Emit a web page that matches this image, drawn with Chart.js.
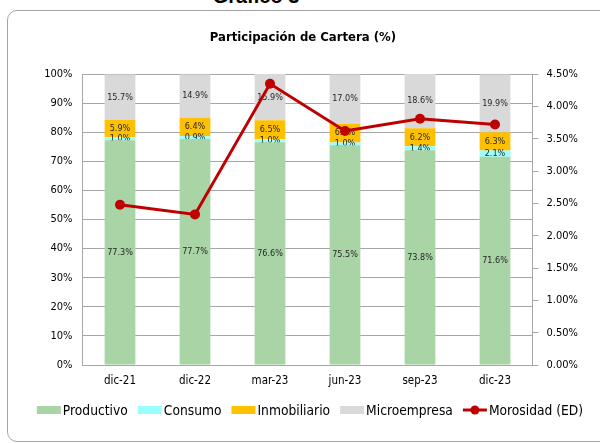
<!DOCTYPE html>
<html>
<head>
<meta charset="utf-8">
<script src="https://cdn.jsdelivr.net/npm/chart.js@4.4.1/dist/chart.umd.min.js"></script>
<style>
  html, body { margin: 0; padding: 0; background: #fff; }
  body { width: 600px; height: 443px; position: relative; overflow: hidden; }
  #heading {
    position: absolute; left: 156px; width: 200px; top: -14px;
    text-align: center; font: bold 20px/20px "Liberation Sans", Arial, sans-serif; color: #000;
  }
  #card {
    position: absolute; left: 7px; top: 10px; width: 620px; height: 430px;
    border: 1px solid #a6a6a6; border-radius: 10px; background: #fff;
  }
  #wrap { position: absolute; left: 0; top: 0; width: 600px; height: 443px; }
</style>
</head>
<body>
<div id="heading">Gráfico 3</div>
<div id="card"></div>
<div id="wrap"><canvas id="cartera" width="600" height="443"></canvas></div>
<script>
const labels = ['dic-21', 'dic-22', 'mar-23', 'jun-23', 'sep-23', 'dic-23'];

const productivo = [77.3, 77.7, 76.6, 75.5, 73.8, 71.6];
const consumo = [1.0, 0.9, 1.0, 1.0, 1.4, 2.1];
const inmobiliario = [5.9, 6.4, 6.5, 6.4, 6.2, 6.3];
const microempresa = [15.7, 14.9, 15.9, 17.0, 18.6, 19.9];
const morosidad = [2.48, 2.33, 4.35, 3.62, 3.81, 3.72];

const FONT = '"DejaVu Sans Condensed", "DejaVu Sans", sans-serif';

// etiquetas de datos (debajo de la linea de morosidad)
const barLabels = {
  id: 'barLabels',
  afterDatasetDraw(chart, args) {
    const ds = chart.data.datasets[args.index];
    if (ds.type === 'line') return;
    const ctx = chart.ctx;
    ctx.save();
    ctx.font = '9px ' + FONT;
    ctx.fillStyle = '#262626';
    ctx.textAlign = 'center';
    ctx.textBaseline = 'middle';
    args.meta.data.forEach((bar, i) => {
      const yMid = (bar.y + bar.base) / 2;
      ctx.fillText(ds.data[i].toFixed(1) + '%', bar.x, yMid);
    });
    ctx.restore();
  }
};

// leyenda dibujada a mano para igualar la de Excel
const customLegend = {
  id: 'customLegend',
  afterDraw(chart) {
    const ctx = chart.ctx;
    const y = 410;
    ctx.save();
    ctx.font = '13.7px ' + FONT;
    ctx.textBaseline = 'middle';
    const items = chart.data.datasets.slice(1).concat(chart.data.datasets[0]).map(ds => ({
      text: ds.label, color: ds.type === 'line' ? ds.borderColor : ds.backgroundColor, line: ds.type === 'line'
    }));
    const boxW = 24, gap = 2, sep = 10;
    let total = 0;
    items.forEach((it, i) => {
      it.w = ctx.measureText(it.text).width;
      total += boxW + gap + it.w + (i < items.length - 1 ? sep : 0);
    });
    let x = 310 - total / 2;
    items.forEach(it => {
      if (it.line) {
        ctx.strokeStyle = it.color;
        ctx.lineWidth = 3;
        ctx.beginPath();
        ctx.moveTo(x, y);
        ctx.lineTo(x + boxW, y);
        ctx.stroke();
        ctx.fillStyle = it.color;
        ctx.beginPath();
        ctx.arc(x + boxW / 2, y, 4.5, 0, Math.PI * 2);
        ctx.fill();
      } else {
        ctx.fillStyle = it.color;
        ctx.fillRect(x, y - 4, boxW, 8);
      }
      x += boxW + gap;
      ctx.fillStyle = '#000';
      ctx.fillText(it.text, x, y + 1);
      x += it.w + sep;
    });
    ctx.restore();
  }
};

const ctx = document.getElementById('cartera').getContext('2d');
const chart = new Chart(ctx, {
  data: {
    labels: labels,
    datasets: [
      { type: 'line', label: 'Morosidad (ED)', data: morosidad, yAxisID: 'y1', order: 0,
        borderColor: '#C00000', backgroundColor: '#C00000', borderWidth: 3,
        pointRadius: 5, pointHoverRadius: 5, pointBackgroundColor: '#C00000', pointBorderWidth: 0 },
      { type: 'bar', label: 'Productivo', data: productivo, backgroundColor: '#A9D4A5', stack: 's', order: 1 },
      { type: 'bar', label: 'Consumo', data: consumo, backgroundColor: '#99FFFF', stack: 's', order: 1 },
      { type: 'bar', label: 'Inmobiliario', data: inmobiliario, backgroundColor: '#FFC000', stack: 's', order: 1 },
      { type: 'bar', label: 'Microempresa', data: microempresa, backgroundColor: '#D9D9D9', stack: 's', order: 1 }
    ]
  },
  options: {
    responsive: false,
    animation: false,
    devicePixelRatio: 1,
    layout: { padding: { top: 0, bottom: 48, left: 6, right: 0 } },
    datasets: { bar: { categoryPercentage: 1, barPercentage: 0.41 } },
    plugins: {
      legend: { display: false },
      tooltip: { enabled: false },
      title: {
        display: true,
        text: 'Participación de Cartera (%)',
        color: '#000',
        font: { family: FONT, size: 13, weight: 'bold' },
        padding: { top: 30, bottom: 28.5 }
      }
    },
    scales: {
      x: {
        stacked: true,
        grid: { display: false, drawTicks: false },
        border: { color: '#a6a6a6' },
        ticks: { color: '#000', padding: 9, maxRotation: 0, font: { family: FONT, size: 11.5 } },
        afterFit(s) { s.height = 30; }
      },
      y: {
        stacked: true,
        position: 'left',
        min: 0, max: 100,
        ticks: { stepSize: 10, color: '#000', padding: 10, font: { family: FONT, size: 11 },
          callback: v => v + '%' },
        grid: { color: '#a6a6a6', drawTicks: false },
        border: { color: '#a6a6a6' },
        afterFit(s) { s.width = 76.5; }
      },
      y1: {
        position: 'right',
        min: 0, max: 4.5,
        ticks: { stepSize: 0.5, color: '#000', padding: 8, font: { family: FONT, size: 11 },
          callback: v => v.toFixed(2) + '%' },
        grid: { drawOnChartArea: false, color: '#a6a6a6', tickLength: 6 },
        border: { color: '#a6a6a6' },
        afterFit(s) { s.width = 67.5; }
      }
    }
  },
  plugins: [barLabels, customLegend]
});
</script>
</body>
</html>
